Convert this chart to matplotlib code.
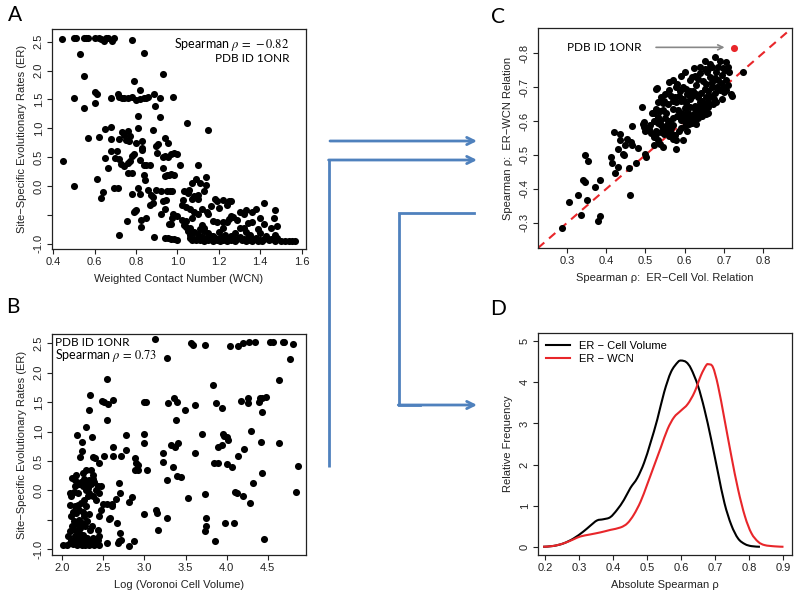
import numpy as np
import matplotlib
matplotlib.use('Agg')
import matplotlib.pyplot as plt
from matplotlib.path import Path
from matplotlib.patches import PathPatch
from matplotlib.lines import Line2D

plt.rcParams['font.family'] = ['Liberation Sans', 'DejaVu Sans']
plt.rcParams['axes.unicode_minus'] = False
plt.rcParams['mathtext.fontset'] = 'stix'

# ---------------- Panel A: ER vs WCN ----------------
a_points = [
    (0.44,2.55),(0.50,2.57),(0.51,2.57),(0.55,2.57),(0.56,2.57),(0.57,2.57),(0.60,2.56),(0.62,2.57),
    (0.63,2.55),(0.645,2.52),(0.655,2.56),(0.665,2.56),(0.685,2.52),(0.695,2.56),(0.78,2.53),
    (0.53,2.28),(0.84,2.30),(0.55,1.90),(0.93,1.94),(0.79,1.82),(0.82,1.66),(0.60,1.63),(0.61,1.59),
    (0.50,1.52),(0.55,1.36),(0.60,1.43),(0.68,1.52),(0.715,1.59),(0.72,1.55),(0.73,1.53),(0.74,1.52),
    (0.76,1.52),(0.78,1.55),(0.80,1.49),(0.82,1.50),(0.84,1.52),(0.85,1.53),(0.86,1.54),(0.885,1.60),
    (0.89,1.39),(0.915,1.52),(0.98,1.55),(0.81,1.22),(0.915,1.20),(1.045,1.10),(1.15,0.97),
    (0.65,0.98),(0.68,1.03),(0.57,0.84),(0.62,0.85),(0.68,0.81),
    (0.73,0.93),(0.74,0.88),(0.72,0.82),(0.75,0.80),(0.76,0.95),(0.77,0.87),(0.765,0.78),(0.81,1.00),
    (0.80,0.74),(0.83,0.78),(0.83,0.66),(0.83,0.62),(0.88,0.97),(0.895,0.69),(0.905,0.73),(0.90,0.58),
    (0.94,0.84),(0.955,0.74),
    (0.68,0.60),(0.71,0.60),(0.65,0.48),(0.70,0.48),(0.72,0.46),(0.725,0.38),(0.74,0.35),(0.76,0.40),
    (0.77,0.43),(0.78,0.52),(0.79,0.55),(0.82,0.45),(0.84,0.36),(0.85,0.36),(0.865,0.37),(0.665,0.32),
    (0.445,0.43),
    (0.93,0.50),(0.94,0.52),(0.955,0.50),(0.97,0.56),(0.985,0.58),(1.00,0.55),(1.01,0.37),(1.10,0.36),
    (0.93,0.32),(0.94,0.18),(0.95,0.19),(0.96,0.20),(0.97,0.21),(0.985,0.19),(0.76,0.22),(0.78,0.23),
    (0.61,0.12),(0.84,0.19),(0.845,0.10),
    (1.14,0.16),(1.09,0.12),(1.07,0.06),(1.11,0.06),(1.14,0.01),
    (0.50,0.00),(0.695,-0.04),(0.715,-0.03),(0.64,-0.10),(0.63,-0.20),(0.78,-0.13),(0.81,-0.04),
    (0.82,-0.13),(0.86,-0.07),(0.87,-0.16),(0.88,-0.19),(0.895,-0.07),(0.92,-0.09),(0.95,-0.09),
    (0.965,-0.08),(0.975,-0.08),(1.055,-0.07),(1.03,-0.09),
    (0.865,-0.32),(0.88,-0.30),(0.93,-0.26),(0.945,-0.25),(0.94,-0.39),(0.92,-0.49),(1.07,-0.23),
    (1.10,-0.23),(1.025,-0.25),(1.02,-0.32),(1.18,-0.22),(1.19,-0.26),(1.22,-0.25),(1.25,-0.26),
    (1.26,-0.26),(1.42,-0.30),(1.47,-0.42),
    (0.79,-0.45),(0.795,-0.43),(0.80,-0.42),(0.755,-0.61),(0.825,-0.58),(0.85,-0.55),(0.825,-0.71),
    (0.98,-0.48),(0.975,-0.56),(0.97,-0.66),(0.96,-0.66),(0.72,-0.84),(0.885,-0.88),
    (1.00,-0.51),(1.02,-0.58),(1.04,-0.60),(1.07,-0.55),(1.10,-0.48),(1.145,-0.45),(1.15,-0.48),
    (1.30,-0.45),(1.32,-0.48),(1.36,-0.45),(1.26,-0.51),(1.25,-0.57),(1.27,-0.54),(1.465,-0.55),
    (1.17,-0.60),(1.19,-0.62),(1.22,-0.62),(1.24,-0.62),(1.36,-0.62),(1.03,-0.68),(1.04,-0.71),
    (1.06,-0.72),(1.12,-0.68),(1.13,-0.72),(1.30,-0.72),(1.32,-0.72),(1.39,-0.74),(1.45,-0.72),
    (1.48,-0.70),
    (0.94,-0.90),(0.955,-0.90),(0.97,-0.91),(0.985,-0.91),(1.00,-0.93),
    (1.06,-0.90),(1.07,-0.93),(1.08,-0.91),(1.09,-0.94),(1.10,-0.90),(1.11,-0.93),(1.12,-0.88),
    (1.125,-0.92),(1.13,-0.95),(1.14,-0.90),(1.15,-0.93),(1.16,-0.87),(1.165,-0.92),(1.17,-0.95),
    (1.18,-0.90),(1.19,-0.93),(1.20,-0.91),(1.205,-0.95),(1.21,-0.88),(1.22,-0.93),(1.23,-0.91),
    (1.24,-0.95),(1.25,-0.90),(1.26,-0.93),(1.27,-0.91),(1.28,-0.95),(1.29,-0.92),(1.30,-0.89),
    (1.31,-0.94),(1.32,-0.92),(1.33,-0.95),(1.34,-0.90),(1.35,-0.93),(1.36,-0.95),(1.37,-0.92),
    (1.38,-0.90),(1.39,-0.95),(1.40,-0.93),(1.41,-0.95),(1.42,-0.91),(1.44,-0.94),(1.45,-0.92),
    (1.47,-0.95),(1.48,-0.90),(1.50,-0.95),(1.52,-0.95),(1.54,-0.95),(1.555,-0.95),(1.57,-0.95),
    (1.08,-0.80),(1.10,-0.83),(1.13,-0.78),(1.15,-0.82),(1.20,-0.80),(1.23,-0.84),(1.28,-0.82),
    (1.33,-0.80),(1.35,-0.84),(1.40,-0.82),(1.43,-0.86),(1.47,-0.84),(1.06,-0.84),(1.17,-0.86),
    (1.26,-0.86),(1.11,-0.75),(1.22,-0.72),(1.05,-0.78),
    (1.06,-0.40),(1.08,-0.45),(1.04,-0.36),(1.12,-0.40),(1.20,-0.38),(1.24,-0.32),(1.16,-0.34),
    (1.33,-0.42),(1.38,-0.40),(1.40,-0.55),(1.42,-0.65),(1.29,-0.58),(1.34,-0.64),(1.10,-0.15),
    (1.05,-0.12),(1.08,-0.18),(1.13,-0.08),
]
a_xticks = [0.4, 0.6, 0.8, 1.0, 1.2, 1.4, 1.6]
er_yticks = [-1.0, -0.5, 0.0, 0.5, 1.0, 1.5, 2.0, 2.5]
er_yticklabels = ['-1.0', '', '0.0', '0.5', '1.0', '1.5', '2.0', '2.5']

# ---------------- Panel B: ER vs log cell volume ----------------
b_points = [
    (2.01,-0.93),(2.06,-0.93),(2.09,-0.90),(2.11,-0.84),(2.13,-0.92),(2.15,-0.78),(2.16,-0.87),
    (2.18,-0.93),(2.19,-0.81),(2.20,-0.73),(2.21,-0.90),(2.23,-0.83),(2.24,-0.93),(2.25,-0.76),
    (2.27,-0.87),(2.28,-0.93),(2.30,-0.81),(2.31,-0.90),(2.33,-0.93),(2.35,-0.87),(2.37,-0.81),
    (2.39,-0.93),(2.41,-0.90),(2.43,-0.84),(2.45,-0.93),
    (2.07,-0.78),(2.10,-0.70),(2.12,-0.61),(2.14,-0.53),(2.16,-0.67),(2.18,-0.58),(2.20,-0.50),
    (2.22,-0.64),(2.24,-0.56),(2.26,-0.44),(2.28,-0.61),(2.30,-0.53),(2.32,-0.41),(2.34,-0.67),
    (2.11,-0.44),(2.13,-0.36),(2.15,-0.27),(2.17,-0.39),(2.19,-0.25),(2.21,-0.33),(2.23,-0.22),
    (2.25,-0.36),(2.27,-0.16),(2.29,-0.27),(2.31,-0.10),
    (2.09,-0.25),(2.11,-0.10),(2.14,-0.02),(2.16,0.07),(2.19,-0.05),(2.21,0.10),(2.23,0.15),
    (2.25,0.07),(2.27,0.19),(2.29,0.12),(2.31,0.04),(2.33,0.18),(2.35,0.10),(2.37,0.26),(2.39,0.15),
    (2.41,0.01),(2.43,0.07),(2.45,-0.05),(2.47,0.07),
    (2.15,0.18),(2.17,0.26),(2.12,0.21),(2.25,0.29),(2.29,0.35),(2.35,0.35),(2.37,0.20),(2.09,-0.05),
    (2.47,-0.33),(2.43,-0.67),(2.36,-0.61),(2.21,-0.73),(2.45,-0.44),(2.29,0.01),(2.33,-0.05),
    (2.38,-0.10),(2.41,-0.16),
    (3.13,2.57),(3.28,2.25),(2.55,1.89),(2.34,1.63),(2.48,1.52),(2.51,1.51),(2.56,1.47),(2.62,1.54),
    (2.32,1.36),(2.54,1.19),(3.00,1.51),(3.02,1.50),(3.29,1.49),(3.36,1.57),(3.38,1.20),(2.29,1.08),
    (2.18,0.94),(2.36,0.90),(2.77,0.94),(3.00,0.96),(3.00,0.81),(2.24,0.82),(2.24,0.67),(2.22,0.56),
    (2.37,0.57),(2.40,0.55),(2.45,0.47),(2.51,0.58),(2.62,0.59),(2.62,0.73),(2.72,0.59),(2.77,0.69),
    (2.88,0.55),(2.90,0.46),(2.92,0.43),(2.88,0.35),(2.92,0.35),(3.03,0.35),(3.23,0.64),(3.23,0.49),
    (3.35,0.40),(3.28,0.18),(3.39,0.24),(3.32,0.77),(3.37,0.74),(3.41,0.80),(3.40,1.50),
    (2.69,0.12),(2.70,-0.04),(2.66,-0.14),(2.81,-0.19),(2.49,-0.24),(2.54,-0.24),(2.61,-0.24),
    (2.57,-0.49),(2.67,-0.56),(3.00,-0.41),(3.14,-0.33),(3.15,-0.38),(3.28,-0.47),(3.17,-0.68),
    (2.70,-0.73),(2.69,-0.87),(2.68,-0.90),(2.81,-0.94),(2.87,-0.87),(2.54,-0.89),(2.45,-0.78),
    (2.58,-0.47),(2.60,-0.27),(2.72,-0.85),(2.85,-0.12),
    (3.56,2.51),(3.59,2.48),(3.74,2.47),(4.04,2.46),(4.14,2.46),(4.20,2.51),(4.27,2.52),(4.34,2.52),
    (4.53,2.52),(4.56,2.52),(4.68,2.52),(4.70,2.52),(4.80,2.49),(4.77,2.23),(4.63,1.87),(3.83,1.79),
    (3.49,1.37),(3.62,1.45),(3.87,1.49),(3.94,1.40),(4.17,1.52),(4.26,1.57),(4.26,1.48),(4.39,1.50),
    (4.41,1.57),(4.43,1.57),(4.48,1.59),(4.43,1.34),(3.70,0.96),(3.95,0.96),(3.97,0.93),(4.00,0.90),
    (4.02,0.86),(3.94,0.78),(3.89,0.73),(4.30,1.01),(4.42,0.83),(4.64,0.81),(3.62,0.63),(4.21,0.70),
    (4.14,0.59),(3.85,0.46),(3.89,0.46),(4.00,0.44),(4.07,0.39),(3.44,0.22),(4.43,0.30),(4.87,0.42),
    (4.32,0.12),(3.53,-0.13),(3.74,-0.06),(4.10,-0.03),(4.13,-0.05),(4.20,-0.10),(4.28,-0.21),
    (4.84,-0.02),(3.75,-0.47),(3.75,-0.60),(3.74,-0.69),(3.98,-0.55),(4.09,-0.56),(3.86,-0.86),
    (4.45,-0.82),
]
b_xticks = [2.0, 2.5, 3.0, 3.5, 4.0, 4.5]

# ---------------- Panel C: ER-CellVol rho vs ER-WCN rho ----------------
c_points = [
    (0.287,-0.285),(0.304,-0.361),(0.328,-0.381),(0.336,-0.324),(0.340,-0.426),(0.347,-0.419),
    (0.345,-0.499),(0.354,-0.482),(0.351,-0.366),(0.371,-0.407),(0.383,-0.425),(0.379,-0.307),
    (0.383,-0.321),(0.413,-0.493),(0.415,-0.477),(0.420,-0.568),(0.423,-0.446),(0.429,-0.465),
    (0.430,-0.519),(0.436,-0.561),(0.436,-0.545),(0.442,-0.502),(0.445,-0.499),(0.449,-0.529),
    (0.453,-0.548),(0.460,-0.383),(0.457,-0.462),(0.464,-0.538),(0.466,-0.529),(0.466,-0.585),
    (0.476,-0.475),(0.480,-0.522),(0.491,-0.640),(0.493,-0.592),(0.497,-0.582),(0.500,-0.572),
    (0.496,-0.597),(0.498,-0.504),(0.502,-0.495),(0.509,-0.577),(0.513,-0.587),(0.515,-0.565),
    (0.517,-0.623),(0.523,-0.553),(0.527,-0.561),(0.530,-0.696),(0.527,-0.636),(0.532,-0.613),
    (0.538,-0.601),
    (0.677,-0.789),(0.652,-0.777),(0.690,-0.777),(0.706,-0.774),(0.664,-0.769),(0.660,-0.752),
    (0.652,-0.752),(0.656,-0.745),(0.624,-0.755),(0.697,-0.757),(0.703,-0.749),(0.713,-0.745),
    (0.748,-0.743),(0.590,-0.733),(0.626,-0.733),(0.634,-0.723),(0.647,-0.718),(0.677,-0.728),
    (0.686,-0.720),(0.694,-0.713),(0.527,-0.694),(0.561,-0.691),
    (0.579,-0.699),(0.587,-0.689),(0.596,-0.701),(0.604,-0.694),(0.613,-0.687),(0.621,-0.689),
    (0.630,-0.679),(0.643,-0.684),(0.652,-0.694),(0.660,-0.689),(0.669,-0.699),(0.677,-0.684),
    (0.682,-0.701),(0.718,-0.679),(0.720,-0.673),
    (0.531,-0.655),(0.544,-0.652),(0.548,-0.660),(0.557,-0.650),(0.570,-0.658),(0.579,-0.655),
    (0.591,-0.658),(0.604,-0.652),(0.613,-0.640),(0.626,-0.645),(0.639,-0.655),(0.652,-0.650),
    (0.660,-0.657),(0.673,-0.650),
    (0.523,-0.625),(0.536,-0.630),(0.544,-0.632),(0.553,-0.625),(0.570,-0.635),(0.583,-0.632),
    (0.600,-0.638),(0.609,-0.625),(0.626,-0.635),(0.634,-0.628),(0.643,-0.630),
    (0.587,-0.611),(0.591,-0.604),(0.596,-0.609),(0.600,-0.599),(0.604,-0.607),(0.609,-0.614),
    (0.613,-0.601),(0.617,-0.609),
    (0.523,-0.600),(0.531,-0.595),(0.540,-0.588),(0.553,-0.585),(0.557,-0.595),(0.566,-0.580),
    (0.570,-0.588),
    (0.527,-0.572),(0.540,-0.567),(0.548,-0.562),(0.561,-0.555),(0.570,-0.548),(0.579,-0.543),
    (0.585,-0.572),(0.531,-0.543),(0.523,-0.528),(0.536,-0.533),(0.544,-0.523),(0.578,-0.517),
    (0.600,-0.745),(0.615,-0.720),(0.630,-0.705),(0.640,-0.740),(0.655,-0.710),(0.665,-0.730),
    (0.670,-0.715),(0.680,-0.745),(0.685,-0.760),(0.695,-0.735),(0.700,-0.700),(0.705,-0.720),
    (0.710,-0.705),(0.665,-0.675),(0.675,-0.665),(0.690,-0.690),(0.695,-0.665),(0.700,-0.685),
    (0.655,-0.670),(0.645,-0.660),(0.635,-0.670),(0.620,-0.675),(0.615,-0.665),(0.605,-0.680),
    (0.595,-0.665),(0.585,-0.675),(0.575,-0.670),(0.565,-0.675),(0.640,-0.645),(0.650,-0.635),
    (0.660,-0.640),(0.655,-0.620),(0.645,-0.615),(0.635,-0.610),(0.625,-0.620),(0.620,-0.595),
    (0.610,-0.590),(0.600,-0.620),(0.590,-0.625),(0.580,-0.615),(0.570,-0.610),(0.560,-0.600),
    (0.550,-0.610),(0.545,-0.580),(0.555,-0.570),(0.565,-0.565),(0.575,-0.560),(0.590,-0.580),
    (0.600,-0.585),(0.625,-0.605),(0.570,-0.720),(0.580,-0.710),(0.550,-0.680),(0.540,-0.670),
    (0.560,-0.715),(0.620,-0.730),(0.640,-0.760),(0.670,-0.760),(0.710,-0.760),
    (0.595,-0.545),(0.605,-0.570),(0.630,-0.590),(0.660,-0.625),(0.680,-0.655),(0.705,-0.690),
]
c_highlight = (0.726, -0.816)
c_xticks = [0.3, 0.4, 0.5, 0.6, 0.7, 0.8]
c_yticks = [-0.8, -0.7, -0.6, -0.5, -0.4, -0.3]

# ---------------- Panel D: density curves ----------------
d_x_cellvol = [0.195,0.225,0.254,0.284,0.313,0.333,0.353,0.372,0.392,0.412,0.432,0.451,0.471,0.491,
               0.510,0.530,0.550,0.570,0.590,0.600,0.615,0.629,0.649,0.668,0.688,0.708,0.727,0.747,
               0.767,0.787,0.806,0.831]
d_y_cellvol = [0.0,0.02,0.08,0.20,0.37,0.51,0.64,0.67,0.72,0.90,1.14,1.43,1.67,2.04,
               2.53,3.10,3.76,4.25,4.49,4.53,4.49,4.33,3.92,3.35,2.61,1.80,1.06,0.53,
               0.20,0.065,0.016,0.0]
d_x_wcn = [0.195,0.225,0.254,0.284,0.304,0.333,0.363,0.392,0.422,0.442,0.461,0.481,0.500,0.520,
           0.540,0.560,0.579,0.599,0.619,0.639,0.658,0.673,0.680,0.693,0.708,0.727,0.747,0.767,
           0.787,0.806,0.826,0.845,0.875,0.900]
d_y_wcn = [0.0,0.02,0.08,0.18,0.25,0.30,0.35,0.41,0.47,0.57,0.78,1.10,1.51,1.96,
           2.41,2.86,3.15,3.31,3.47,3.76,4.17,4.41,4.44,4.37,3.92,3.10,2.21,1.39,
           0.74,0.33,0.12,0.04,0.01,0.0]
d_xticks = [0.2, 0.3, 0.4, 0.5, 0.6, 0.7, 0.8, 0.9]
d_yticks = [0, 1, 2, 3, 4, 5]

W, H = 800, 602
fig = plt.figure(figsize=(8, 6.02), dpi=100)


def add_ax(l, t, r, b):
    return fig.add_axes([l / W, 1 - b / H, (r - l) / W, (b - t) / H])


def style(ax, xticks, xlabels, yticks, ylabels):
    for s in ax.spines.values():
        s.set_linewidth(0.9)
        s.set_color('#222222')
    ax.set_xticks(xticks)
    ax.set_xticklabels(xlabels)
    ax.set_yticks(yticks)
    ax.set_yticklabels(ylabels, rotation=90, va='center')
    ax.tick_params(direction='out', length=3.5, width=0.8, labelsize=8, colors='#222222')
    ax.tick_params(axis='x', pad=2.5)
    ax.tick_params(axis='y', pad=2.5)


def smooth_path(xs, ys):
    """Render a curve through the read points with Catmull-Rom Bezier segments."""
    P = np.column_stack([xs, ys]).astype(float)
    verts = [P[0]]
    codes = [Path.MOVETO]
    n = len(P)
    for i in range(n - 1):
        p0 = P[i - 1] if i > 0 else P[i]
        p3 = P[i + 2] if i + 2 < n else P[i + 1]
        c1 = P[i] + (P[i + 1] - p0) / 6.0
        c2 = P[i + 1] - (p3 - P[i]) / 6.0
        verts += [c1, c2, P[i + 1]]
        codes += [Path.CURVE4] * 3
    return Path(verts, codes)


lab_kw = dict(fontsize=8, color='#222222')
ann_font = ['Lato', 'DejaVu Sans']
MS = 26

# Panel A
axA = add_ax(52, 29, 306, 249)
pa = np.array(a_points)
axA.scatter(pa[:, 0], pa[:, 1], s=MS, c='black', linewidths=0)
axA.set_xlim(0.394, 1.621)
axA.set_ylim(-1.09, 2.72)
style(axA, a_xticks, [f'{v:.1f}' for v in a_xticks], er_yticks, er_yticklabels)
axA.set_xlabel('Weighted Contact Number (WCN)', labelpad=5, **lab_kw)
axA.set_ylabel('Site\u2212Specific Evolutionary Rates (ER)', labelpad=5, **lab_kw)
axA.text(0.935, 0.93, r'Spearman $\rho\,=\,-0.82$', transform=axA.transAxes, ha='right', va='center',
         fontsize=9, family=ann_font)
axA.text(0.935, 0.865, 'PDB ID 1ONR', transform=axA.transAxes, ha='right', va='center',
         fontsize=8.5, family=ann_font)

# Panel B
axB = add_ax(52, 334, 306, 555)
pb = np.array(b_points)
axB.scatter(pb[:, 0], pb[:, 1], s=MS, c='black', linewidths=0)
axB.set_xlim(1.876, 4.964)
axB.set_ylim(-1.10, 2.66)
style(axB, b_xticks, [f'{v:.1f}' for v in b_xticks], er_yticks, er_yticklabels)
axB.set_xlabel('Log (Voronoi Cell Volume)', labelpad=5, **lab_kw)
axB.set_ylabel('Site\u2212Specific Evolutionary Rates (ER)', labelpad=5, **lab_kw)
axB.text(0.013, 0.962, 'PDB ID 1ONR', transform=axB.transAxes, ha='left', va='center',
         fontsize=8.5, family=ann_font)
axB.text(0.013, 0.903, r'Spearman $\rho\,=\,0.73$', transform=axB.transAxes, ha='left', va='center',
         fontsize=9, family=ann_font)

# Panel C
axC = add_ax(538, 28, 792, 248)
pc = np.array(c_points)
axC.scatter(pc[:, 0], pc[:, 1], s=MS, c='black', linewidths=0, zorder=3)
axC.set_xlim(0.226, 0.874)
axC.set_ylim(-0.226, -0.874)
axC.plot([0.226, 0.874], [-0.226, -0.874], color='#E8262A', lw=1.5, ls=(0, (4, 3)), zorder=2)
axC.scatter([c_highlight[0]], [c_highlight[1]], s=MS, c='#E8262A', linewidths=0, zorder=4)
style(axC, c_xticks, [f'{v:.1f}' for v in c_xticks], c_yticks, [f'{v:.1f}' for v in c_yticks])
axC.set_xlabel('Spearman \u03c1:  ER\u2212Cell Vol. Relation', labelpad=5, **lab_kw)
axC.set_ylabel('Spearman \u03c1:  ER\u2212WCN Relation', labelpad=5, **lab_kw)
axC.text(0.395, -0.818, 'PDB ID 1ONR', ha='center', va='center', fontsize=8.5, family=ann_font)
axC.annotate('', xy=(0.709, -0.817), xytext=(0.52, -0.817),
             arrowprops=dict(arrowstyle='->', color='#888888', lw=1.2, mutation_scale=9))

# Panel D
axD = add_ax(538, 333, 792, 555)
axD.add_patch(PathPatch(smooth_path(d_x_cellvol, d_y_cellvol), fill=False, edgecolor='black', lw=1.5))
axD.add_patch(PathPatch(smooth_path(d_x_wcn, d_y_wcn), fill=False, edgecolor='#E8262A', lw=1.5))
axD.set_xlim(0.18, 0.925)
axD.set_ylim(-0.2, 5.2)
style(axD, d_xticks, [f'{v:.1f}' for v in d_xticks], d_yticks, [str(v) for v in d_yticks])
axD.set_xlabel('Absolute Spearman \u03c1', labelpad=5, **lab_kw)
axD.set_ylabel('Relative Frequency', labelpad=5, **lab_kw)
handles = [Line2D([], [], color='black', lw=1.5), Line2D([], [], color='#E8262A', lw=1.5)]
axD.legend(handles, ['ER \u2212 Cell Volume', 'ER \u2212 WCN'], loc='upper left', frameon=False,
           fontsize=8, handlelength=2.2, handletextpad=0.8, labelspacing=0.3, borderaxespad=0.3)

# Panel letters
for letter, (px, py) in {'A': (15, 15), 'B': (13, 307), 'C': (498, 17), 'D': (498, 309)}.items():
    fig.text(px / W, 1 - py / H, letter, ha='center', va='center', fontsize=15, family=ann_font)

# Blue connector arrows (overlay in pixel space)
ov = fig.add_axes([0, 0, 1, 1], zorder=10)
ov.set_xlim(0, W)
ov.set_ylim(H, 0)
ov.axis('off')
ov.patch.set_alpha(0)
blue = '#4F81BD'
lw_b = 2.0
arr = dict(arrowstyle='->', color=blue, lw=lw_b, mutation_scale=13, shrinkA=0, shrinkB=0)
ov.annotate('', xy=(477, 141), xytext=(330, 141), arrowprops=arr)
ov.plot([329.3, 329.3], [467, 160], color=blue, lw=lw_b, solid_capstyle='butt')
ov.annotate('', xy=(477, 160), xytext=(328.6, 160), arrowprops=arr)
ov.plot([474, 399, 399, 420], [213, 213, 405, 405], color=blue, lw=lw_b, solid_joinstyle='miter')
ov.annotate('', xy=(477, 405), xytext=(398.3, 405), arrowprops=arr)

fig.savefig('out.png', dpi=100)
